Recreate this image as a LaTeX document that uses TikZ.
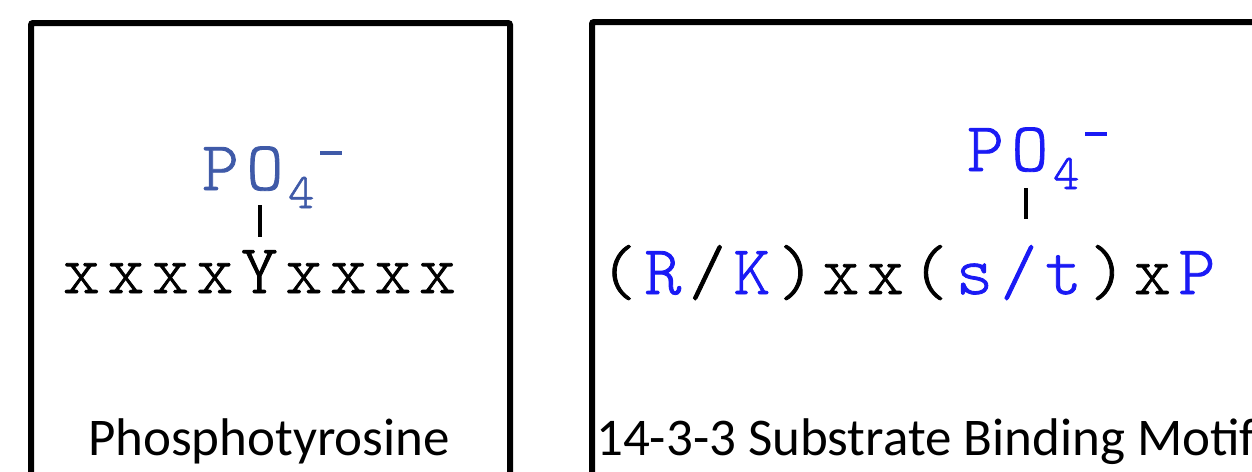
\documentclass[tikz,border=0pt]{standalone}
\usepackage{fontspec}
\setmainfont{Carlito}
\newfontfamily\seqfont[FakeBold=1.2]{lmmonolt10-regular.otf}
\usetikzlibrary{positioning}
\definecolor{cPOa}{HTML}{3F5AA8}
\definecolor{cPOb}{HTML}{1A1AF5}
\newcommand{\sqc}[1]{\makebox[44.5pt]{#1}}
\newcommand{\blu}[1]{\sqc{\textcolor{cPOb}{#1}}}
\newcommand{\phosgrp}{\sqc{P}\sqc{O}\raisebox{-18pt}{\makebox[28pt]{\fontsize{50}{50}\selectfont 4}}\hspace{5pt}\raisebox{35pt}{\rule{22pt}{4pt}}}

\begin{document}
\begin{tikzpicture}[x=1pt, y=-1pt,
  panel/.style={line width=6pt, rounded corners=2pt},
  seq/.style={font=\seqfont\fontsize{70}{80}\selectfont, inner sep=0pt, anchor=base west},
  lbl/.style={font=\fontsize{53}{60}\selectfont, inner sep=0pt},
  tick/.style={line width=4pt}
]
\useasboundingbox (0,0) rectangle (1252,471);
\clip (0,0) rectangle (1252,471);

% panels
\draw[panel] (31,23) rectangle (510,520);
\draw[panel] (592,22) rectangle (1300,520);

% phosphotyrosine
\node[seq, text=cPOa] (lpo) at (198,190) {\phosgrp};
\node[seq] (lseq) at (59,293) {\sqc{x}\sqc{x}\sqc{x}\sqc{x}\sqc{Y}\sqc{x}\sqc{x}\sqc{x}\sqc{x}};
\coordinate (lt1) at (260,205);
\coordinate (lt2) at (260,237);
\draw[tick] (lt1) -- (lt2);
\node[lbl, anchor=base] (llbl) at (269,455) {Phosphotyrosine};

% 14-3-3 motif
\node[seq, text=cPOb] (rpo) at (963,171) {\phosgrp};
\node[seq] (rseq) at (596,294) {\sqc{(}\blu{R}\sqc{/}\blu{K}\sqc{)}\sqc{x}\sqc{x}\sqc{(}\blu{s}\blu{/}\blu{t}\sqc{)}\sqc{x}\blu{P}};
\coordinate (rt1) at (1026,188);
\coordinate (rt2) at (1026,219);
\draw[tick] (rt1) -- (rt2);
\node[lbl, anchor=base west] (rlbl) at (596,455) {14-3-3 Substrate Binding Motif};
\end{tikzpicture}
\end{document}
